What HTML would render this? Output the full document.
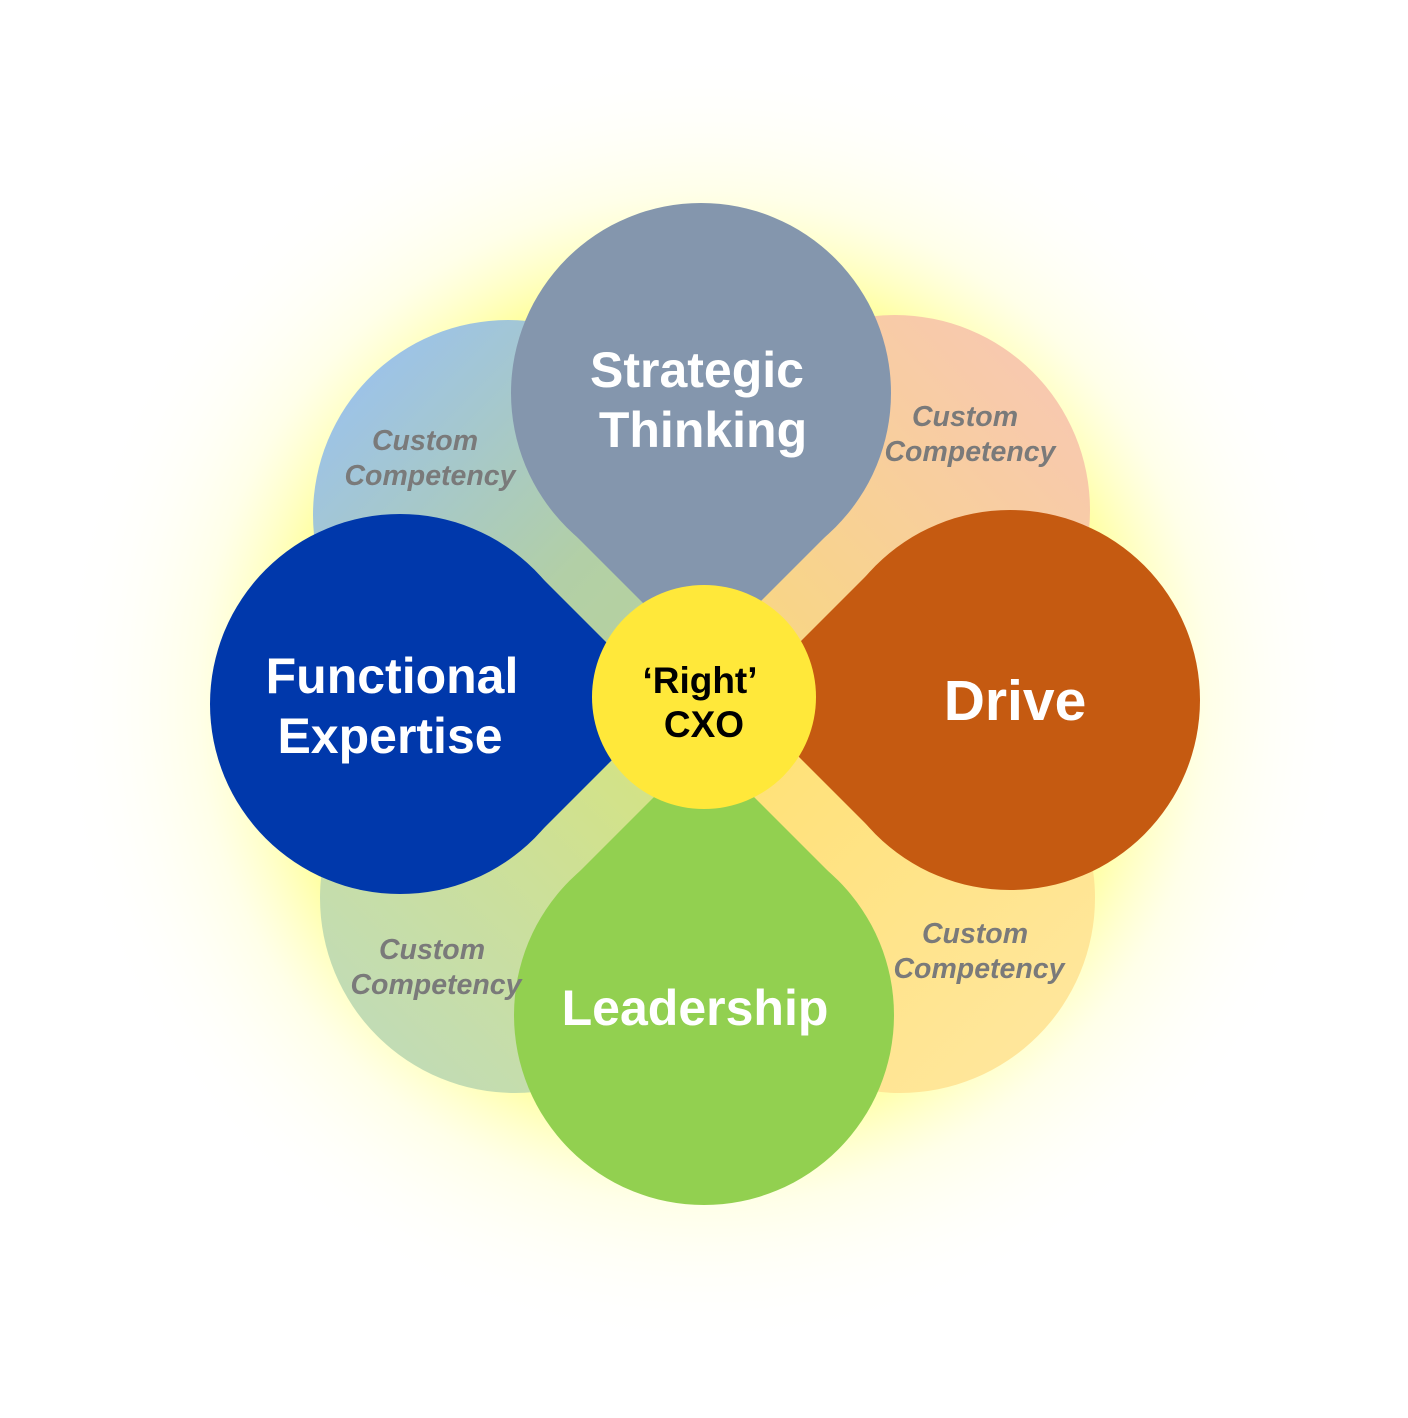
<!DOCTYPE html>
<html><head><meta charset="utf-8"><style>
html,body{margin:0;padding:0;background:#fff;}
svg{display:block;}
text{font-family:"Liberation Sans",Arial,sans-serif;font-weight:bold;text-anchor:middle;}
.cc{font-style:italic;fill:#7a7a7a;font-size:28.5px;}
.big{fill:#fff;font-size:50px;}
</style></head><body>
<svg width="1408" height="1418" viewBox="0 0 1408 1418" xmlns="http://www.w3.org/2000/svg">
<defs>
<radialGradient id="glow" cx="704" cy="700" r="650" gradientUnits="userSpaceOnUse">
<stop offset="0" stop-color="#ffff40" stop-opacity="1"/>
<stop offset="0.62" stop-color="#ffff70" stop-opacity="0.8"/>
<stop offset="0.78" stop-color="#ffffc0" stop-opacity="0.35"/>
<stop offset="1" stop-color="#ffffff" stop-opacity="0"/>
</radialGradient>
<linearGradient id="gTL" gradientUnits="userSpaceOnUse" x1="370" y1="380" x2="700" y2="700"><stop offset="0" stop-color="#9dc3e6"/><stop offset="0.6" stop-color="#b2cfa6"/><stop offset="1" stop-color="#b9d39a"/></linearGradient>
<linearGradient id="gTR" gradientUnits="userSpaceOnUse" x1="1030" y1="380" x2="700" y2="700"><stop offset="0" stop-color="#f8c9ae"/><stop offset="1" stop-color="#f8d97a"/></linearGradient>
<linearGradient id="gBL" gradientUnits="userSpaceOnUse" x1="380" y1="1030" x2="700" y2="700"><stop offset="0" stop-color="#c2dcb4"/><stop offset="1" stop-color="#d8e47a"/></linearGradient>
<linearGradient id="gBR" gradientUnits="userSpaceOnUse" x1="1030" y1="1030" x2="700" y2="700"><stop offset="0" stop-color="#ffe69a"/><stop offset="1" stop-color="#ffe070"/></linearGradient>
</defs>
<rect width="1408" height="1418" fill="#fff"/>
<circle cx="704" cy="700" r="650" fill="url(#glow)"/>
<g fill="url(#gTL)">
<circle cx="508" cy="515" r="195"/>
<polygon points="508,515 703,515 703,710 508,710"/>
</g>
<g fill="url(#gTR)">
<circle cx="895" cy="510" r="195"/>
<polygon points="895,510 700,510 700,705 895,705"/>
</g>
<g fill="url(#gBL)">
<circle cx="515" cy="898" r="195"/>
<polygon points="515,898 710,898 710,703 515,703"/>
</g>
<g fill="url(#gBR)">
<circle cx="900" cy="898" r="195"/>
<polygon points="900,898 705,898 705,703 900,703"/>
</g>
<g fill="#8496ad">
<circle cx="701" cy="393" r="190"/>
<polygon points="701,393 835,527 701,661 567,527"/>
</g>
<g fill="#c55a11">
<circle cx="1010" cy="700" r="190"/>
<polygon points="1010,700 876,834 742,700 876,566"/>
</g>
<g fill="#92d050">
<circle cx="704" cy="1015" r="190"/>
<polygon points="704,1015 570,881 704,747 838,881"/>
</g>
<g fill="#0038ab">
<circle cx="400" cy="704" r="190"/>
<polygon points="400,704 534,570 668,704 534,838"/>
</g>
<circle cx="704" cy="697" r="112" fill="#ffe83a"/>
<text class="cc" x="425" y="450">Custom</text>
<text class="cc" x="430" y="485">Competency</text>
<text class="cc" x="965" y="426">Custom</text>
<text class="cc" x="970" y="461">Competency</text>
<text class="cc" x="432" y="959">Custom</text>
<text class="cc" x="436" y="994">Competency</text>
<text class="cc" x="975" y="943">Custom</text>
<text class="cc" x="979" y="978">Competency</text>
<text class="big" x="697" y="387">Strategic</text>
<text class="big" x="703" y="447">Thinking</text>
<text class="big" x="392" y="693">Functional</text>
<text class="big" x="390" y="753">Expertise</text>
<text class="big" x="1015" y="720" style="font-size:57px">Drive</text>
<text class="big" x="695" y="1025">Leadership</text>
<text x="700" y="693" style="font-size:37px;fill:#000">‘Right’</text>
<text x="704" y="737" style="font-size:37px;fill:#000">CXO</text>
</svg>
</body></html>
